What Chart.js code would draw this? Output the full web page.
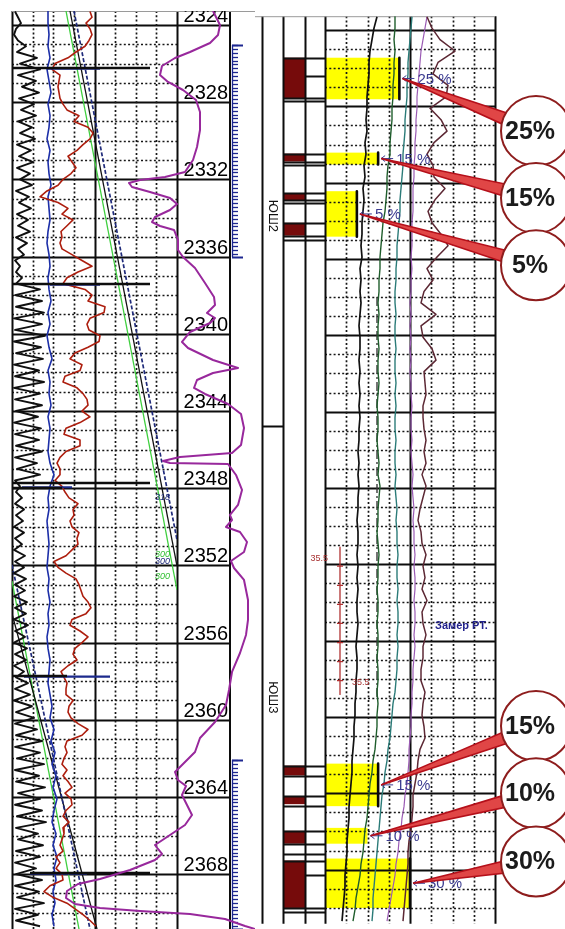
<!DOCTYPE html>
<html lang="ru">
<head>
<meta charset="utf-8">
<title>Каротаж ЮШ2 – ЮШ3</title>
<script src="https://cdn.jsdelivr.net/npm/chart.js@4.4.1/dist/chart.umd.min.js"></script>
<style>
  html, body { margin: 0; padding: 0; background: #fff; }
  body { width: 565px; height: 929px; position: relative; overflow: hidden; }
  canvas { position: absolute; top: 11px; }
  #logLeft { left: 0; }
  #logRight { left: 255px; }
</style>
</head>
<body>
<canvas id="logLeft" width="255" height="918"></canvas>
<canvas id="logRight" width="310" height="918"></canvas>
<script>
// ---------- depth window ----------
const DEPTH_TOP = 2323.275;
const DEPTH_BOTTOM = 2370.84;
const depthLabels = [2324, 2328, 2332, 2336, 2340, 2344, 2348, 2352, 2356, 2360, 2364, 2368];

// ---------- track 1: sampled logs (start depth, step, values) ----------
const sampleStart = 2323.3;
const gammaStep = 0.3;
const gammaValues = [
  3, 6, 9, 4, 2, 6, 14, 5, 25, 8,
  28, 6, 24, 10, 27, 7, 22, 9, 24, 6,
  20, 8, 23, 5, 19, 7, 21, 5, 18, 8,
  20, 4, 17, 7, 19, 5, 16, 6, 18, 4,
  15, 6, 12, 3, 8, 4, 10, 4, 28, 3,
  30, 4, 32, 2, 30, 3, 33, 2, 29, 4,
  31, 2, 27, 3, 32, 2, 28, 3, 30, 4,
  26, 2, 29, 3, 27, 4, 30, 3, 25, 5,
  28, 3, 8, 4, 10, 3, 12, 4, 11, 2,
  12, 3, 10, 2, 13, 3, 12, 2, 14, 3,
  13, 2, 15, 3, 14, 2, 16, 3, 13, 2,
  15, 3, 14, 2, 12, 4, 16, 3, 18, 2,
  20, 4, 22, 3, 25, 4, 30, 3, 28, 5,
  32, 3, 27, 4, 33, 6, 28, 3, 30, 5,
  34, 4, 26, 6, 31, 4, 28, 3, 24, 4,
  30, 3, 27, 5, 32, 3, 26, 4, 28
];
const redStep = 0.3;
const redValues = [
  78, 80, 74, 78, 80, 77, 73, 64, 56, 43,
  40, 48, 47, 46, 47, 48, 51, 55, 67, 62,
  76, 81, 78, 71, 65, 56, 60, 64, 59, 51,
  46, 35, 28, 46, 56, 50, 61, 55, 49, 50,
  48, 50, 60, 70, 80, 66, 55, 51, 73, 80,
  76, 93, 92, 78, 75, 77, 88, 87, 76, 63,
  58, 70, 68, 53, 51, 65, 71, 75, 76, 70,
  78, 68, 54, 52, 68, 68, 54, 48, 45, 48,
  48, 43, 50, 53, 57, 66, 61, 62, 58, 60,
  67, 65, 66, 60, 54, 42, 46, 54, 64, 67,
  69, 71, 76, 79, 74, 60, 58, 68, 76, 70,
  63, 61, 65, 56, 49, 52, 55, 54, 54, 61,
  57, 56, 59, 66, 76, 70, 55, 53, 55, 52,
  50, 55, 51, 56, 60, 53, 59, 60, 54, 51,
  57, 51, 52, 50, 48, 51, 44, 48, 44, 50,
  51, 38, 32, 41, 55, 63, 71, 78, 84
];
const blueStep = 0.6;
const blueValues = [
  36, 36, 37, 36, 38, 35, 37, 39, 36, 38, 37, 35, 38, 36, 37, 39, 36, 37, 38, 36,
  35, 37, 38, 36, 37, 39, 36, 38, 35, 37, 40, 36, 38, 37, 39, 36, 38, 37, 36, 38,
  42, 38, 36, 37, 35, 36, 37, 36, 35, 37, 36, 38, 36, 37, 35, 36, 38, 37, 36, 38,
  40, 38, 42, 39, 43, 40, 44, 41, 45, 42, 40, 44, 41, 45, 42, 44, 41, 43, 40, 42
];

// SP curve: [depth, value]
const spCurve = [
  [2323.275, 201], [2324.000, 208], [2324.518, 206], [2324.933, 198], [2325.399, 178], [2325.710, 163],
  [2326.124, 150], [2326.591, 148], [2326.953, 156], [2327.368, 171], [2327.886, 184], [2328.508, 188],
  [2329.440, 188], [2330.321, 185], [2330.995, 181], [2331.617, 173], [2331.876, 153], [2332.031, 128],
  [2332.186, 117], [2332.394, 120], [2332.653, 138], [2332.964, 158], [2333.275, 165], [2333.585, 158],
  [2333.948, 143], [2334.207, 140], [2334.414, 148], [2334.622, 162], [2335.140, 166], [2335.658, 166],
  [2336.021, 171], [2336.591, 183], [2337.368, 193], [2338.093, 202], [2338.508, 203], [2338.922, 195],
  [2339.181, 203], [2339.440, 198], [2339.907, 178], [2340.425, 170], [2340.736, 176], [2341.358, 201],
  [2341.772, 226], [2342.031, 201], [2342.394, 185], [2342.808, 182], [2343.119, 193], [2343.637, 216],
  [2344.155, 229], [2344.881, 232], [2345.762, 229], [2346.176, 220], [2346.383, 168], [2346.591, 151],
  [2346.694, 158], [2346.746, 216], [2347.316, 224], [2348.093, 230], [2348.870, 226], [2349.389, 218],
  [2349.648, 220], [2350.010, 214], [2350.269, 228], [2350.788, 235], [2351.306, 232], [2351.772, 219],
  [2352.135, 222], [2352.756, 232], [2353.793, 236], [2354.829, 236], [2355.606, 234], [2356.539, 228],
  [2357.523, 220], [2358.456, 217], [2359.233, 214], [2360.114, 203], [2360.943, 188], [2361.668, 183],
  [2362.290, 171], [2362.705, 163], [2363.119, 166], [2363.430, 174], [2363.896, 170], [2364.414, 175],
  [2364.933, 180], [2365.451, 173], [2365.969, 158], [2366.487, 143], [2366.694, 146], [2366.953, 150],
  [2367.264, 143], [2367.782, 118], [2368.249, 88], [2368.508, 66], [2368.870, 55], [2369.233, 54],
  [2369.544, 63], [2369.751, 88], [2369.907, 128], [2370.062, 178], [2370.321, 213], [2370.684, 233],
  [2370.840, 243]
];

// temperature trends (wrap back to the left edge at full scale)
const trendGreenUpper = [[2323.275, 54], [2353.27, 165]];
const trendGreenLower = [[2352.81, 0], [2370.84, 67]];
const trendBlackUpper = [[2323.275, 58], [2352.03, 165]];
const trendBlackLower = [[2354.50, 0], [2370.84, 85]];
const trendNavyUpper = [[2323.275, 62], [2350.68, 165]];
const trendNavyLower = [[2351.98, 0], [2370.84, 78]];
const trendNotes = ['318', '300', '300', '300'];
const trendNoteDepth = [2348.46, 2351.46, 2351.82, 2352.55];

// spikes of the gamma/neutron logs: depth, from, to
const spikeDepth = [2326.228, 2337.42, 2347.73, 2347.99, 2357.73, 2367.94];
const spikeFrom = [0, 0, 0, 0, 0, 18];
const spikeTo = [138, 138, 138, 50, 55, 138];
const navySpikeDepth = [2326.26, 2337.45, 2347.95, 2357.76, 2367.97];
const navySpikeFrom = [35, 38, 10, 12, 18];
const navySpikeTo = [88, 88, 60, 98, 75];

// perforation ruler intervals
const rulerSpans = [[2325.04, 2336.02], [2362.08, 2370.84]];

// ---------- track 3 ----------
const t3Start = 2323.3;
const t3Step = 0.6;
const t3Black = [
  52, 49, 47, 45, 44, 44, 43, 42, 42, 41, 42, 40, 41, 39, 40, 38, 39, 38, 37, 37,
  36, 37, 35, 36, 35, 36, 35, 34, 35, 35, 34, 35, 34, 35, 34, 35, 34, 34, 33, 34,
  33, 34, 33, 33, 32, 33, 33, 32, 33, 32, 33, 32, 32, 33, 32, 31, 32, 32, 31, 31,
  30, 30, 29, 29, 28, 27, 27, 26, 25, 24, 24, 23, 22, 22, 21, 20, 20, 19, 18, 17
];
const t3Green = [
  70, 70, 69, 70, 69, 69, 68, 68, 67, 67, 66, 65, 65, 63, 62, 62, 61, 60, 58, 57,
  56, 55, 55, 54, 54, 53, 54, 53, 53, 54, 53, 53, 54, 53, 52, 53, 53, 52, 53, 54,
  53, 55, 54, 53, 53, 52, 53, 54, 53, 53, 52, 53, 53, 52, 53, 53, 52, 53, 53, 52,
  53, 52, 52, 51, 50, 48, 47, 45, 44, 43, 42, 40, 39, 38, 36, 35, 33, 31, 30, 28
];
const t3Teal = [
  87, 86, 85, 84, 83, 83, 82, 82, 81, 80, 80, 79, 78, 78, 77, 76, 75, 75, 74, 73,
  72, 72, 71, 71, 70, 70, 71, 70, 70, 71, 70, 70, 71, 70, 71, 70, 70, 71, 70, 70,
  71, 70, 71, 72, 71, 72, 72, 73, 72, 72, 73, 72, 73, 73, 72, 73, 72, 72, 71, 70,
  68, 67, 66, 65, 63, 62, 60, 59, 57, 56, 55, 54, 53, 52, 51, 50, 49, 48, 48, 47
];
const t3Violet = [
  102, 100, 98, 96, 95, 94, 93, 92, 92, 91, 91, 90, 90, 89, 89, 88, 88, 88, 87, 87,
  87, 86, 87, 86, 86, 85, 86, 85, 86, 85, 86, 85, 86, 86, 87, 86, 86, 87, 86, 87,
  88, 87, 88, 89, 88, 89, 89, 90, 89, 90, 90, 89, 90, 90, 89, 90, 89, 88, 88, 87,
  87, 86, 86, 85, 84, 84, 83, 82, 80, 79, 77, 76, 74, 73, 71, 70, 68, 66, 64, 62
];
const t3Brown = [
  102, 107, 115, 130, 113, 108, 123, 121, 105, 116, 122, 109, 102, 108, 109, 120, 110, 103, 107, 116,
  123, 112, 102, 108, 99, 96, 111, 96, 98, 107, 111, 99, 100, 101, 98, 98, 99, 101, 99, 101,
  97, 101, 98, 95, 93, 96, 97, 101, 98, 100, 97, 102, 97, 98, 101, 98, 98, 96, 96, 100,
  98, 97, 99, 100, 95, 93, 92, 90, 88, 88, 87, 86, 84, 83, 83, 82, 81, 80, 79, 78
];

// pay zones: interval and porosity, %
const payTop = [2325.451, 2330.425, 2332.446, 2362.446, 2365.813, 2367.420];
const payBottom = [2327.627, 2331.047, 2334.829, 2364.674, 2366.642, 2370.010];
const payValue = [25, 15, 5, 15, 10, 30];
const payMarked = [true, true, true, true, false, true];

// perforated intervals
const perfTop = [2325.451, 2330.477, 2332.549, 2334.104, 2362.549, 2364.155, 2365.969, 2367.523];
const perfBottom = [2327.575, 2330.891, 2332.912, 2334.777, 2363.067, 2364.570, 2366.642, 2370.010];
const cellLines = [2325.451, 2327.575, 2327.731, 2330.477, 2330.891, 2331.098, 2332.549, 2332.912,
  2333.067, 2334.104, 2334.777, 2334.984, 2362.549, 2363.119, 2364.155, 2364.674, 2365.969,
  2366.642, 2367.160, 2367.523, 2370.010, 2370.217];
const cellSplits = [2326.435, 2368.30];

// formations
const zoneNames = ['ЮШ2', 'ЮШ3'];
const zoneLabelDepth = [2333.74, 2358.97];
const zoneBoundary = 2344.73;

// pressure/temperature gauge run
const gaugeValue = 15;
const gaugeSpan = [2351.10, 2358.82];
const gaugeTicks = [2352.1, 2353.1, 2354.1, 2355.1, 2356.1, 2357.1, 2358.1];
const gaugeLabels = ['35.5', '35.5'];
const gaugeNote = 'Замер РТ.';
const dashValue = 52;
const dashSpan = [2337.99, 2358.97];

// callout bubble centres (depth)
const bubbleDepth = [2329.285, 2332.808, 2336.331, 2360.477, 2364.0, 2367.575];

// ---------- helpers ----------
const FONT = '"Liberation Sans", Arial, sans-serif';
const MAJOR = { color: '#0c0c0c', width: 2 };
const MINOR = { color: '#161616', width: 1.7, dash: [2, 2.3] };
const FRAME = { color: '#9a9a9a', width: 1 };

function sampled(start, step, values) {
  return values.map((v, i) => ({ x: v, y: +(start + i * step).toFixed(3) }));
}
function pairs(list) { return list.map(([d, v]) => ({ x: v, y: d })); }
function curve(data, color, width, extra) {
  return Object.assign({ data, showLine: true, borderColor: color, borderWidth: width,
    pointRadius: 0, fill: false, tension: 0, borderJoinStyle: 'round' }, extra || {});
}
function stroke(ctx, x0, y0, x1, y1, s) {
  ctx.beginPath();
  ctx.strokeStyle = s.color;
  ctx.lineWidth = s.width;
  ctx.setLineDash(s.dash || []);
  ctx.moveTo(x0, y0);
  ctx.lineTo(x1, y1);
  ctx.stroke();
}
const depthScale = { type: 'linear', min: DEPTH_TOP, max: DEPTH_BOTTOM, reverse: true, display: false };
const baseOptions = { responsive: false, animation: false, events: [],
  plugins: { legend: { display: false }, tooltip: { enabled: false } } };

// ---------- left: track 1 + depth column ----------
const leftGrid = {
  id: 'leftGrid',
  beforeDatasetsDraw(chart) {
    const { ctx, chartArea: a, scales } = chart;
    const y = scales.y, x = scales.x;
    const depthEdge = a.right + 53;
    ctx.save();
    for (let d = Math.ceil(DEPTH_TOP); d <= DEPTH_BOTTOM; d++) {
      const py = Math.round(y.getPixelForValue(d)) + 0.5;
      if (d % 4 === 0) stroke(ctx, a.left, py, depthEdge, py, MAJOR);
      else stroke(ctx, a.left, py, a.right, py, MINOR);
    }
    for (let i = 0; i <= 8; i++) {
      const px = Math.round(x.getPixelForValue(x.min + i * (x.max - x.min) / 8)) + 0.5;
      stroke(ctx, px, a.top, px, a.bottom, i % 4 === 0 ? MAJOR : MINOR);
    }
    stroke(ctx, depthEdge, a.top, depthEdge, a.bottom, MAJOR);
    stroke(ctx, a.left, a.top + 0.5, chart.width, a.top + 0.5, FRAME);

    // perforation ruler
    const rs = { color: '#1d2790', width: 1.3 };
    const x0 = depthEdge + 2;
    rulerSpans.forEach(([d0, d1]) => {
      stroke(ctx, x0 + 0.5, y.getPixelForValue(d0), x0 + 0.5, y.getPixelForValue(d1), rs);
      for (let d = d0; d <= d1 + 1e-6; d += 0.2) {
        const py = Math.round(y.getPixelForValue(d)) + 0.5;
        stroke(ctx, x0, py, x0 + 6, py, rs);
      }
      [d0, d1].forEach(d => {
        const py = Math.round(y.getPixelForValue(d)) + 0.5;
        stroke(ctx, x0, py, x0 + 11, py, { color: '#1d2790', width: 2 });
      });
    });

    // depth labels
    ctx.font = '20px ' + FONT;
    ctx.fillStyle = '#000';
    ctx.textAlign = 'right';
    ctx.textBaseline = 'alphabetic';
    depthLabels.forEach(d => ctx.fillText(String(d), depthEdge - 2, y.getPixelForValue(d) - 3));
    ctx.restore();
  },
  afterDatasetsDraw(chart) {
    const { ctx, scales } = chart;
    const colors = ['#1f2a7a', '#35c135', '#1f2a7a', '#35c135'];
    ctx.save();
    ctx.font = 'italic 9px ' + FONT;
    ctx.textAlign = 'left';
    ctx.textBaseline = 'middle';
    trendNotes.forEach((t, i) => {
      ctx.fillStyle = colors[i];
      ctx.fillText(t, scales.x.getPixelForValue(143), scales.y.getPixelForValue(trendNoteDepth[i]));
    });
    ctx.restore();
  }
};

const leftDatasets = [
  curve(pairs(spCurve), '#98289c', 2, { clip: false }),
  ...spikeDepth.map((d, i) => curve([{ x: spikeFrom[i], y: d }, { x: spikeTo[i], y: d }], '#0d0d0d', 2.6)),
  ...navySpikeDepth.map((d, i) => curve([{ x: navySpikeFrom[i], y: d }, { x: navySpikeTo[i], y: d }], '#1c2a8c', 2.2)),
  curve(sampled(sampleStart, redStep, redValues), '#ad1e0e', 1.6),
  curve(sampled(sampleStart, blueStep, blueValues), '#1d2fa8', 1.6),
  curve(sampled(sampleStart, gammaStep, gammaValues), '#101010', 1.9),
  curve(pairs(trendNavyUpper), '#1f2a7a', 1.7, { borderDash: [4, 2] }),
  curve(pairs(trendNavyLower), '#1f2a7a', 1.7, { borderDash: [4, 2] }),
  curve(pairs(trendBlackUpper), '#111', 1.3),
  curve(pairs(trendBlackLower), '#111', 1.3),
  curve(pairs(trendGreenUpper), '#3fcf3f', 1.3),
  curve(pairs(trendGreenLower), '#3fcf3f', 1.3)
];

new Chart(document.getElementById('logLeft'), {
  type: 'scatter',
  data: { datasets: leftDatasets },
  options: Object.assign({}, baseOptions, {
    layout: { padding: { left: 12, right: 78, top: 0, bottom: 0 } },
    scales: { x: { type: 'linear', min: 0, max: 165, display: false }, y: depthScale }
  }),
  plugins: [leftGrid]
});

// ---------- right: columns + track 3 + callouts ----------
const rightDecor = {
  id: 'rightDecor',
  beforeDatasetsDraw(chart) {
    const { ctx, chartArea: a, scales } = chart;
    const y = scales.y, xp = scales.xPor;
    const fm0 = a.left - 63, colA0 = a.left - 42, colA1 = a.left - 20;
    ctx.save();

    // pay zones: bars from the track edge to the porosity value, under the grid
    ctx.fillStyle = '#ffff00';
    payValue.forEach((v, i) => {
      const x0 = xp.getPixelForValue(xp.min), x1 = xp.getPixelForValue(v);
      const y0 = y.getPixelForValue(payTop[i]), y1 = y.getPixelForValue(payBottom[i]);
      ctx.fillRect(x0, y0, x1 - x0, y1 - y0);
    });

    ctx.fillStyle = '#760b0b';
    perfTop.forEach((t, i) => {
      const y0 = y.getPixelForValue(t), y1 = y.getPixelForValue(perfBottom[i]);
      ctx.fillRect(colA0, y0, colA1 - colA0, y1 - y0);
    });
    const cell = { color: '#111', width: 2 };
    cellLines.forEach(d => {
      const py = Math.round(y.getPixelForValue(d)) + 0.5;
      stroke(ctx, colA0, py, a.left, py, cell);
    });
    cellSplits.forEach(d => {
      const py = Math.round(y.getPixelForValue(d)) + 0.5;
      stroke(ctx, colA1, py, a.left, py, cell);
    });
    [fm0, colA0, colA1].forEach(px => stroke(ctx, px + 0.5, a.top, px + 0.5, a.bottom, MAJOR));
    const zb = Math.round(y.getPixelForValue(zoneBoundary)) + 0.5;
    stroke(ctx, fm0, zb, colA0, zb, MAJOR);

    ctx.font = '13px ' + FONT;
    ctx.fillStyle = '#111';
    ctx.textAlign = 'center';
    ctx.textBaseline = 'middle';
    zoneNames.forEach((n, i) => {
      ctx.save();
      ctx.translate((fm0 + colA0) / 2, y.getPixelForValue(zoneLabelDepth[i]));
      ctx.rotate(Math.PI / 2);
      ctx.fillText(n, 0, 0);
      ctx.restore();
    });

    // track 3 grid
    for (let d = Math.ceil(DEPTH_TOP); d <= DEPTH_BOTTOM; d++) {
      const py = Math.round(y.getPixelForValue(d)) + 0.5;
      stroke(ctx, a.left, py, a.right, py, d % 4 === 0 ? MAJOR : MINOR);
    }
    for (let v = xp.min; v <= xp.max; v += 10) {
      const px = Math.round(xp.getPixelForValue(v)) + 0.5;
      stroke(ctx, px, a.top, px, a.bottom, (v - xp.min) % 40 === 0 ? MAJOR : MINOR);
    }
    stroke(ctx, 0, a.top + 0.5, a.right, a.top + 0.5, FRAME);
    ctx.restore();
  },
  afterDatasetsDraw(chart) {
    const { ctx, chartArea: a, scales } = chart;
    const y = scales.y, xp = scales.xPor, xl = scales.xLog;
    ctx.save();

    // gauge annotations
    ctx.font = '9px ' + FONT;
    ctx.fillStyle = '#a83232';
    ctx.textBaseline = 'middle';
    ctx.textAlign = 'right';
    ctx.fillText(gaugeLabels[0], xl.getPixelForValue(3), y.getPixelForValue(2351.72));
    ctx.textAlign = 'left';
    ctx.fillText(gaugeLabels[1], xl.getPixelForValue(27), y.getPixelForValue(2358.20));
    ctx.font = 'bold 11px ' + FONT;
    ctx.fillStyle = '#22228c';
    ctx.fillText(gaugeNote, xl.getPixelForValue(110), y.getPixelForValue(2355.24));

    // porosity labels
    const tips = payValue.map((v, i) => ({
      x: xp.getPixelForValue(v) + 3,
      y: y.getPixelForValue((payTop[i] + payBottom[i]) / 2)
    }));
    ctx.font = '15px ' + FONT;
    ctx.fillStyle = '#3b3b90';
    tips.forEach((t, i) => {
      stroke(ctx, t.x + 12, t.y, t.x, t.y, { color: '#3b3b90', width: 1 });
      ctx.beginPath();
      ctx.moveTo(t.x + 4, t.y - 3); ctx.lineTo(t.x, t.y); ctx.lineTo(t.x + 4, t.y + 3);
      ctx.stroke();
      ctx.textAlign = 'left';
      ctx.fillText(payValue[i] + ' %', t.x + 15, t.y + 1);
    });

    // callout bubbles
    const cx = a.right + 41, r = 35;
    const centres = bubbleDepth.map(d => y.getPixelForValue(d));
    tips.forEach((t, i) => {
      const cy = centres[i];
      const ang = Math.atan2(t.y - cy, t.x - cx);
      ctx.beginPath();
      ctx.moveTo(t.x, t.y);
      ctx.lineTo(cx + r * Math.cos(ang - 0.17), cy + r * Math.sin(ang - 0.17));
      ctx.lineTo(cx + r * Math.cos(ang + 0.17), cy + r * Math.sin(ang + 0.17));
      ctx.closePath();
      ctx.setLineDash([]);
      ctx.fillStyle = '#e04646';
      ctx.fill();
      ctx.strokeStyle = '#b5101a';
      ctx.lineWidth = 1.6;
      ctx.stroke();
    });
    centres.forEach((cy, i) => {
      ctx.beginPath();
      ctx.arc(cx, cy, r, 0, Math.PI * 2);
      ctx.fillStyle = '#fff';
      ctx.fill();
      ctx.strokeStyle = '#8e1d1d';
      ctx.lineWidth = 2;
      ctx.stroke();
      ctx.font = 'bold 25px ' + FONT;
      ctx.fillStyle = '#1b1b1b';
      ctx.textAlign = 'center';
      ctx.textBaseline = 'middle';
      ctx.fillText(payValue[i] + '%', cx - 6, cy + 1);
    });
    ctx.restore();
  }
};

const payMarkers = payValue.map((v, i) => payMarked[i]
  ? curve([{ x: v, y: payTop[i] }, { x: v, y: payBottom[i] }], '#0a0a0a', 2.6, { xAxisID: 'xPor' })
  : null).filter(Boolean);

const rightDatasets = [
  ...payMarkers,
  curve(sampled(t3Start, t3Step, t3Brown), '#5c2834', 1.5, { xAxisID: 'xLog' }),
  curve(sampled(t3Start, t3Step, t3Violet), '#9b5bb4', 1.2, { xAxisID: 'xLog' }),
  curve(sampled(t3Start, t3Step, t3Teal), '#2b7b78', 1.4, { xAxisID: 'xLog' }),
  curve(sampled(t3Start, t3Step, t3Green), '#1f5d2c', 1.4, { xAxisID: 'xLog' }),
  curve(sampled(t3Start, t3Step, t3Black), '#111', 1.7, { xAxisID: 'xLog' }),
  curve([{ x: dashValue, y: dashSpan[0] }, { x: dashValue, y: dashSpan[1] }], '#3a3a3a', 1.4,
    { xAxisID: 'xLog', borderDash: [9, 3, 2, 3] }),
  curve([{ x: gaugeValue, y: gaugeSpan[0] }, { x: gaugeValue, y: gaugeSpan[1] }], '#b03030', 1.3,
    { xAxisID: 'xLog' }),
  { data: gaugeTicks.map(d => ({ x: gaugeValue, y: d })), xAxisID: 'xLog', showLine: false,
    pointStyle: 'line', pointRadius: 3, borderColor: '#b03030', borderWidth: 1.2 }
];

new Chart(document.getElementById('logRight'), {
  type: 'scatter',
  data: { datasets: rightDatasets },
  options: Object.assign({}, baseOptions, {
    layout: { padding: { left: 70, right: 70, top: 0, bottom: 0 } },
    scales: {
      xPor: { type: 'linear', axis: 'x', position: 'bottom', min: -10, max: 70, display: false },
      xLog: { type: 'linear', axis: 'x', position: 'bottom', min: 0, max: 170, display: false },
      y: depthScale
    }
  }),
  plugins: [rightDecor]
});
</script>
</body>
</html>
